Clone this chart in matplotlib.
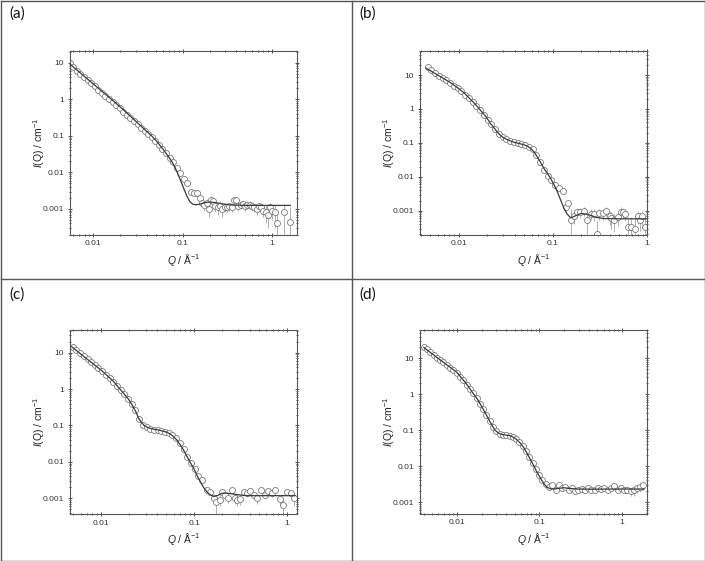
import matplotlib
matplotlib.use("Agg")
import matplotlib.pyplot as plt
import numpy as np
from matplotlib.lines import Line2D
from matplotlib.ticker import FixedLocator, FixedFormatter, LogLocator, NullFormatter

plt.rcParams['font.family'] = ['Liberation Sans', 'DejaVu Sans']
plt.rcParams['mathtext.fontset'] = 'custom'
plt.rcParams['mathtext.rm'] = 'Liberation Sans'
plt.rcParams['mathtext.it'] = 'Liberation Sans:italic'

# ---------------- panel (a) ----------------
fit_q_a = [0.0055, 0.0065, 0.008, 0.01, 0.0125, 0.016, 0.02, 0.025, 0.03, 0.036, 0.045, 0.052,
           0.06, 0.068, 0.076, 0.083, 0.09, 0.097, 0.104, 0.112, 0.12, 0.13, 0.14, 0.155, 0.175,
           0.2, 0.23, 0.27, 0.33, 0.45, 0.7, 1.0, 1.6]
fit_i_a = [9.2, 6.5, 4.2, 2.65, 1.67, 1.0, 0.62, 0.38, 0.25, 0.165, 0.1, 0.068,
           0.044, 0.029, 0.0195, 0.013, 0.0082, 0.0052, 0.0034, 0.0022, 0.0016, 0.00135, 0.0013, 0.00135, 0.00148,
           0.00155, 0.0015, 0.0014, 0.0013, 0.00126, 0.00125, 0.00125, 0.00125]
low_q_a = [0.0055, 0.006, 0.0066, 0.0072, 0.0079, 0.0087, 0.0095, 0.0104, 0.0114, 0.0125, 0.0137, 0.015,
           0.0165, 0.018, 0.0198, 0.0217, 0.0238, 0.026, 0.0285, 0.0313, 0.0343, 0.0376, 0.0412, 0.0451,
           0.0494, 0.0542, 0.0594, 0.0651, 0.0713, 0.0781, 0.0856, 0.0938, 0.1028, 0.1127, 0.1235]
low_i_a = [9.8, 7.6, 6.1, 5.0, 4.1, 3.3, 2.75, 2.25, 1.85, 1.53, 1.26, 1.04,
           0.85, 0.70, 0.57, 0.46, 0.375, 0.31, 0.25, 0.205, 0.167, 0.136, 0.11, 0.091,
           0.072, 0.057, 0.043, 0.033, 0.025, 0.019, 0.0135, 0.0095, 0.0065, 0.0050, 0.0029]
hi_q_a = [0.135, 0.145, 0.155, 0.165, 0.175, 0.185, 0.195, 0.207, 0.22, 0.233, 0.247, 0.262, 0.278,
          0.295, 0.313, 0.332, 0.352, 0.373, 0.395, 0.42, 0.445, 0.472, 0.5, 0.53, 0.562, 0.596,
          0.632, 0.67, 0.71, 0.753, 0.798, 0.846, 0.897, 0.951, 1.008, 1.07, 1.13, 1.35, 1.6]
hi_i_a = [0.0028, 0.0027, 0.0020, 0.0015, 0.0013, 0.0015, 0.0010, 0.0018, 0.0016, 0.0012, 0.0011, 0.0012, 0.0010,
          0.0011, 0.0011, 0.0012, 0.0011, 0.0018, 0.0018, 0.0012, 0.0013, 0.0014, 0.0012, 0.0013, 0.0013, 0.0012,
          0.0011, 0.0010, 0.0012, 0.0011, 0.0009, 0.0008, 0.0007, 0.0011, 0.0009, 0.0008, 0.0004, 0.0008, 0.00045]
hi_e_a = [0.0002, 0.0003, 0.0003, 0.0004, 0.0004, 0.0004, 0.0004, 0.0004, 0.0004, 0.0004, 0.0004, 0.0004, 0.0004,
          0.0003, 0.0003, 0.0003, 0.0003, 0.0003, 0.0003, 0.0003, 0.0003, 0.0003, 0.0003, 0.0003, 0.0003, 0.0003,
          0.0003, 0.0003, 0.0003, 0.0003, 0.0003, 0.0004, 0.0004, 0.0004, 0.0004, 0.0005, 0.0005, 0.0006, 0.0007]

# ---------------- panel (b) ----------------
fit_q_b = [0.0045, 0.0055, 0.0069, 0.0085, 0.01, 0.0115, 0.0133, 0.015, 0.017, 0.0195, 0.0218, 0.024,
           0.0257, 0.028, 0.0302, 0.034, 0.0385, 0.0435, 0.0493, 0.054, 0.058, 0.063, 0.0684, 0.074,
           0.0806, 0.088, 0.095, 0.103, 0.112, 0.121, 0.131, 0.142, 0.155, 0.172, 0.198, 0.225, 0.253,
           0.29, 0.35, 0.5, 1.0]
fit_i_b = [16.0, 11.5, 8.0, 5.6, 4.0, 2.95, 1.95, 1.4, 0.93, 0.6, 0.375, 0.27,
           0.21, 0.165, 0.14, 0.12, 0.105, 0.097, 0.088, 0.08, 0.07, 0.055, 0.039, 0.027,
           0.0177, 0.0125, 0.0089, 0.0059, 0.0036, 0.0021, 0.0012, 0.0008, 0.00062, 0.0007, 0.00083, 0.0008, 0.00073,
           0.00064, 0.00059, 0.00058, 0.00058]
low_q_b = [0.0047, 0.0051, 0.0056, 0.0062, 0.0068, 0.0074, 0.0081, 0.0089, 0.0098, 0.0107, 0.0117, 0.0129,
           0.0141, 0.0155, 0.0169, 0.0186, 0.0203, 0.0223, 0.0244, 0.0268, 0.0293, 0.0321, 0.0352, 0.0386,
           0.0423, 0.0464, 0.0508, 0.0557, 0.061, 0.0669, 0.0733, 0.0803, 0.088, 0.0965, 0.1057, 0.1159,
           0.127, 0.138, 0.146]
low_i_b = [17.6, 13.8, 11.8, 9.6, 8.1, 7.0, 5.8, 4.9, 4.1, 3.35, 2.65, 2.1,
           1.6, 1.22, 0.93, 0.65, 0.48, 0.35, 0.255, 0.18, 0.148, 0.128, 0.115, 0.103,
           0.097, 0.092, 0.085, 0.078, 0.064, 0.045, 0.028, 0.016, 0.0105, 0.0078, 0.0058, 0.0048,
           0.0037, 0.0013, 0.0017]
hi_q_b = [0.155, 0.168, 0.182, 0.196, 0.214, 0.233, 0.253, 0.276, 0.298, 0.313, 0.34, 0.37, 0.40,
          0.42, 0.45, 0.49, 0.53, 0.55, 0.58, 0.63, 0.68, 0.74, 0.80, 0.85, 0.88, 0.95]
hi_i_b = [0.00053, 0.0007, 0.00091, 0.0009, 0.0010, 0.00053, 0.00083, 0.0008, 0.00021, 0.00085, 0.00085, 0.0010, 0.00068,
          0.0006, 0.00053, 0.00065, 0.00095, 0.0009, 0.0008, 0.00034, 0.00034, 0.0003, 0.0007, 0.00055, 0.00068, 0.00034]
hi_e_b = [0.0006, 0.0003, 0.0003, 0.0003, 0.0003, 0.0004, 0.0003, 0.0003, 0.0003, 0.0003, 0.0003, 0.0003, 0.0003,
          0.0003, 0.0003, 0.0003, 0.0003, 0.0003, 0.0003, 0.0003, 0.0003, 0.0003, 0.0003, 0.0003, 0.0003, 0.0003]

# ---------------- panel (c) ----------------
fit_q_c = [0.0048, 0.0065, 0.008, 0.01, 0.0136, 0.0174, 0.0195, 0.0214, 0.0235, 0.0252, 0.0268, 0.0286,
           0.031, 0.0337, 0.0375, 0.0415, 0.046, 0.051, 0.056, 0.06, 0.065, 0.071, 0.077, 0.0838,
           0.091, 0.099, 0.107, 0.116, 0.126, 0.137, 0.149, 0.162, 0.18, 0.2, 0.23, 0.266, 0.32,
           0.37, 0.6, 1.22]
fit_i_c = [14.6, 7.8, 5.15, 3.3, 1.6, 0.76, 0.54, 0.37, 0.24, 0.158, 0.125, 0.103,
           0.09, 0.083, 0.078, 0.075, 0.07, 0.065, 0.057, 0.049, 0.04, 0.029, 0.021, 0.0139,
           0.0095, 0.0066, 0.0043, 0.0029, 0.002, 0.0015, 0.00125, 0.00112, 0.0012, 0.00138, 0.00137, 0.0013, 0.00122,
           0.00118, 0.00118, 0.00118]
low_q_c = [0.0049, 0.0054, 0.0059, 0.0065, 0.0071, 0.0078, 0.0085, 0.0093, 0.0102, 0.0112, 0.0123, 0.0135,
           0.0148, 0.0162, 0.0177, 0.0194, 0.0213, 0.0233, 0.0256, 0.028, 0.0307, 0.0337, 0.0369, 0.0404,
           0.0443, 0.0486, 0.0532, 0.0583, 0.0639, 0.0701, 0.0768, 0.0842, 0.0922, 0.1011, 0.1108, 0.1214]
low_i_c = [14.5, 12.0, 9.8, 8.0, 6.6, 5.4, 4.5, 3.7, 3.1, 2.5, 2.0, 1.6,
           1.22, 0.93, 0.72, 0.55, 0.38, 0.26, 0.15, 0.105, 0.09, 0.08, 0.077, 0.075,
           0.072, 0.068, 0.063, 0.055, 0.044, 0.032, 0.022, 0.014, 0.0095, 0.0062, 0.0042, 0.0031]
hi_q_c = [0.137, 0.149, 0.162, 0.173, 0.188, 0.199, 0.216, 0.231, 0.254, 0.276, 0.287, 0.308, 0.341,
          0.37, 0.40, 0.44, 0.47, 0.52, 0.58, 0.63, 0.69, 0.74, 0.84, 0.90, 1.0, 1.1, 1.18]
hi_i_c = [0.0017, 0.0015, 0.00105, 0.00077, 0.0009, 0.0015, 0.00123, 0.00105, 0.0017, 0.0010, 0.0009, 0.00097, 0.0015,
          0.0014, 0.0016, 0.00123, 0.0010, 0.0017, 0.00123, 0.0016, 0.0014, 0.0017, 0.00093, 0.00065, 0.0015, 0.0014, 0.0010]
hi_e_c = [0.0002, 0.0002, 0.0003, 0.0004, 0.0003, 0.0003, 0.0003, 0.0003, 0.0003, 0.0003, 0.0003, 0.0003, 0.0003,
          0.0003, 0.0003, 0.0003, 0.0003, 0.0003, 0.0003, 0.0003, 0.0003, 0.0003, 0.0003, 0.0004, 0.0003, 0.0003, 0.0004]

# ---------------- panel (d) ----------------
fit_q_d = [0.004, 0.005, 0.0063, 0.008, 0.01, 0.0132, 0.0155, 0.0175, 0.02, 0.022, 0.0253, 0.029,
           0.032, 0.035, 0.04, 0.044, 0.048, 0.053, 0.058, 0.064, 0.07, 0.077, 0.085, 0.093,
           0.1, 0.107, 0.115, 0.123, 0.135, 0.149, 0.17, 0.196, 0.23, 0.285, 0.4, 1.0, 1.85]
fit_i_d = [20.0, 13.5, 9.0, 6.0, 4.1, 1.9, 1.12, 0.77, 0.46, 0.31, 0.17, 0.1,
           0.083, 0.076, 0.072, 0.07, 0.064, 0.055, 0.045, 0.034, 0.024, 0.016, 0.0105, 0.0069,
           0.0052, 0.004, 0.0031, 0.0026, 0.00235, 0.0023, 0.0024, 0.0025, 0.0024, 0.0023, 0.00228, 0.0023, 0.0023]
low_q_d = [0.004, 0.0044, 0.0048, 0.0053, 0.0058, 0.0063, 0.0069, 0.0076, 0.0083, 0.0091, 0.01, 0.011,
           0.012, 0.0132, 0.0145, 0.0158, 0.0174, 0.019, 0.0209, 0.0229, 0.0251, 0.0275, 0.0301, 0.033,
           0.0362, 0.0397, 0.0435, 0.0477, 0.0523, 0.0573, 0.0628, 0.0688, 0.0754, 0.0827, 0.0906, 0.0993,
           0.1089, 0.1193, 0.1308]
low_i_d = [21.0, 17.5, 15.0, 12.3, 10.3, 9.0, 7.7, 6.5, 5.5, 4.7, 4.0, 3.1,
           2.45, 1.85, 1.4, 1.05, 0.77, 0.55, 0.38, 0.27, 0.18, 0.12, 0.092, 0.079,
           0.074, 0.072, 0.07, 0.066, 0.058, 0.047, 0.037, 0.027, 0.018, 0.012, 0.0082, 0.0056,
           0.0042, 0.0031, 0.0026]
hi_q_d = [0.143, 0.157, 0.172, 0.188, 0.206, 0.226, 0.247, 0.271, 0.296, 0.324, 0.355, 0.389, 0.426,
          0.466, 0.511, 0.559, 0.612, 0.67, 0.734, 0.804, 0.88, 0.964, 1.055, 1.155, 1.265, 1.385,
          1.516, 1.66, 1.8]
hi_i_d = [0.0029, 0.0022, 0.0029, 0.0025, 0.0026, 0.0022, 0.0024, 0.0020, 0.0021, 0.0023, 0.0022, 0.0024, 0.0022,
          0.0021, 0.0025, 0.0023, 0.0024, 0.0022, 0.0025, 0.0028, 0.0022, 0.0024, 0.0021, 0.0022, 0.0020, 0.0021,
          0.0024, 0.0027, 0.0030]
hi_e_d = [0.0002, 0.0002, 0.0002, 0.0002, 0.0002, 0.0002, 0.0002, 0.0002, 0.0002, 0.0002, 0.0002, 0.0002, 0.0002,
          0.0002, 0.0002, 0.0002, 0.0002, 0.0002, 0.0002, 0.0002, 0.0002, 0.0002, 0.0002, 0.0003, 0.0005, 0.0006,
          0.0006, 0.0008, 0.0008]

panels = [
    ("(a)", fit_q_a, fit_i_a, low_q_a, low_i_a, hi_q_a, hi_i_a, hi_e_a, (0.0055, 1.9), (2.0e-4, 21)),
    ("(b)", fit_q_b, fit_i_b, low_q_b, low_i_b, hi_q_b, hi_i_b, hi_e_b, (0.0039, 1.0), (2.0e-4, 51)),
    ("(c)", fit_q_c, fit_i_c, low_q_c, low_i_c, hi_q_c, hi_i_c, hi_e_c, (0.0046, 1.28), (3.7e-4, 42)),
    ("(d)", fit_q_d, fit_i_d, low_q_d, low_i_d, hi_q_d, hi_i_d, hi_e_d, (0.0036, 2.0), (4.8e-4, 61)),
]

W, H = 705, 561
fig = plt.figure(figsize=(W / 100, H / 100), dpi=100)
fig.patch.set_facecolor('white')

# axes boxes in pixels: left, top, right, bottom
boxes = [(70, 51, 297, 234.5), (420, 51, 647, 234.5), (70, 330, 297, 514), (420, 330, 647, 513.5)]
label_pos = [(9, 14), (359, 14), (9, 295), (359, 295)]

for (name, fq, fi, lq, li, hq, hi, he, xl, yl), (l, t, r, b), (lx, ly) in zip(panels, boxes, label_pos):
    ax = fig.add_axes([l / W, 1 - b / H, (r - l) / W, (b - t) / H])
    ax.set_xscale('log')
    ax.set_yscale('log')

    hi = np.array(hi)
    he = np.array(he)
    lower = np.minimum(he, hi * 0.97)
    ax.errorbar(hq, hi, yerr=[lower, he], fmt='none', ecolor='#b0b0b0', elinewidth=0.7, capsize=0, zorder=1)
    ax.plot(lq, li, 'o', ms=4.3, mfc='white', mec='#7a7a7a', mew=0.6, zorder=2)
    ax.plot(hq, hi, 'o', ms=4.3, mfc='white', mec='#7a7a7a', mew=0.6, zorder=2)
    ax.plot(fq, fi, '-', color='#3a3a3a', lw=0.9, zorder=3)

    ax.set_xlim(*xl)
    ax.set_ylim(*yl)

    yt = [0.001, 0.01, 0.1, 1, 10]
    ax.yaxis.set_major_locator(FixedLocator(yt))
    ax.yaxis.set_major_formatter(FixedFormatter(['0.001', '0.01', '0.1', '1', '10']))
    xt = [0.01, 0.1, 1]
    ax.xaxis.set_major_locator(FixedLocator(xt))
    ax.xaxis.set_major_formatter(FixedFormatter(['0.01', '0.1', '1']))
    ax.xaxis.set_minor_locator(LogLocator(base=10, subs=np.arange(2, 10)))
    ax.yaxis.set_minor_locator(LogLocator(base=10, subs=np.arange(2, 10)))
    ax.xaxis.set_minor_formatter(NullFormatter())
    ax.yaxis.set_minor_formatter(NullFormatter())

    ax.tick_params(which='both', top=True, right=True, labelsize=6, colors='#333333',
                   width=0.6, pad=3)
    ax.tick_params(which='major', length=2.5)
    ax.tick_params(which='minor', length=1.5)
    ax.tick_params(axis='x', which='both', direction='inout')
    ax.tick_params(axis='y', which='both', direction='inout')
    for sp in ax.spines.values():
        sp.set_color('#555555')
        sp.set_linewidth(0.8)

    ax.set_ylabel(r'$I$(Q) / cm$^{-1}$', fontsize=7.5, color='#222222')
    ax.set_xlabel(r'$Q$ / Å$^{-1}$', fontsize=7.5, color='#222222')
    ax.yaxis.set_label_coords(-0.1, 0.5)
    ax.xaxis.set_label_coords(0.5, -0.095)

    fig.text(lx / W, 1 - ly / H, name, fontsize=11, family=['Lato', 'DejaVu Sans'],
             ha='left', va='center', color='#111111')

# panel frame grid
frame = dict(color='#555555', lw=1.0, transform=fig.transFigure)
for xs, ys in [([0.5, 704.5], [0.5, 0.5]), ([0.5, 704.5], [560.5, 560.5]),
               ([0.5, 0.5], [0.5, 560.5]), ([704.5, 704.5], [0.5, 560.5]),
               ([351.5, 351.5], [0.5, 560.5]), ([0.5, 704.5], [279, 279])]:
    fig.add_artist(Line2D([x / W for x in xs], [1 - y / H for y in ys], **frame))

fig.savefig('out.png', dpi=100)
